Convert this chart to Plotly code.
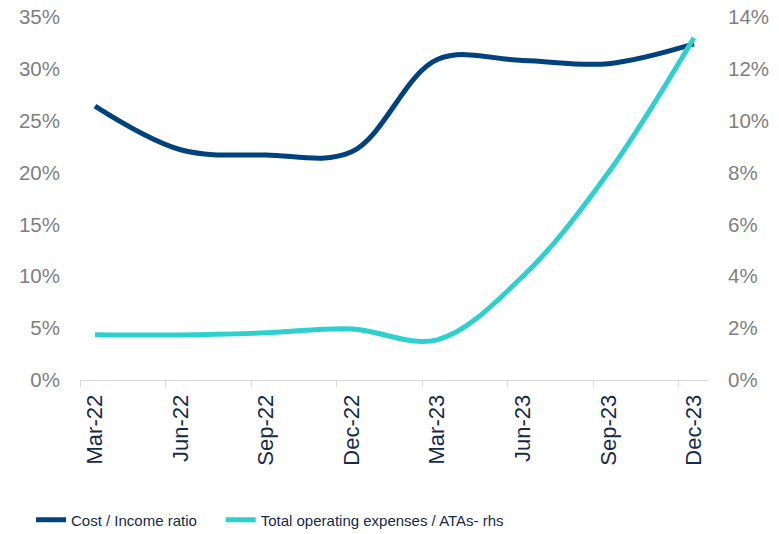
import plotly.graph_objects as go

# Quarter labels and the two ratio series (in %)
quarters = ["Mar-22", "Jun-22", "Sep-22", "Dec-22", "Mar-23", "Jun-23", "Sep-23", "Dec-23"]
cost_income = [26.4, 22.2, 21.7, 22.0, 30.9, 30.8, 30.5, 32.4]
opex_atas = [1.75, 1.74, 1.82, 1.97, 1.55, 4.0, 8.0, 13.2]

left_ticks = [0, 5, 10, 15, 20, 25, 30, 35]
right_ticks = [0, 2, 4, 6, 8, 10, 12, 14]

NAVY = "#00427c"
TEAL = "#2ecfcf"
GREY = "#808080"
LABEL_DARK = "#162a4a"
FONT = "Arial, Liberation Sans, sans-serif"

x = list(range(len(quarters)))

fig = go.Figure()
fig.add_trace(go.Scatter(
    x=x, y=cost_income, name="Cost / Income ratio", mode="lines",
    line=dict(color=NAVY, width=5, shape="spline", smoothing=1.0),
    yaxis="y", legend="legend",
))
fig.add_trace(go.Scatter(
    x=x, y=opex_atas, name="Total operating expenses / ATAs- rhs", mode="lines",
    line=dict(color=TEAL, width=5, shape="spline", smoothing=1.0),
    yaxis="y2", legend="legend2",
))

legend_style = dict(
    orientation="h", xanchor="left", y=-0.386, yanchor="middle",
    font=dict(family=FONT, size=15, color=LABEL_DARK),
    bgcolor="rgba(0,0,0,0)",
)

# tick marks sit slightly left of each category position
tick_offset = -0.175
fig.update_layout(
    width=779, height=534,
    margin=dict(l=80, r=71, t=17, b=154, autoexpand=False),
    paper_bgcolor="white", plot_bgcolor="white",
    showlegend=True,
    legend=dict(x=-0.078, **legend_style),
    legend2=dict(x=0.224, **legend_style),
    xaxis=dict(
        range=[-0.175, 7.164],
        tickmode="array", tickvals=x, ticktext=quarters,
        tickangle=-90, ticks="", showgrid=False, zeroline=False,
        showline=True, linecolor="#d9d9d9", linewidth=1,
        tickfont=dict(family=FONT, size=22, color=LABEL_DARK),
        ticklabelstandoff=5,
        minor=dict(tickmode="array", tickvals=[tick_offset + i for i in x],
                   ticks="outside", ticklen=6, tickcolor="#d9d9d9", tickwidth=1,
                   showgrid=False),
    ),
    yaxis=dict(
        range=[0, 35], tickmode="array", tickvals=left_ticks,
        ticktext=[f"{v}%" for v in left_ticks],
        showgrid=False, zeroline=False, showline=False,
        tickfont=dict(family=FONT, size=20.5, color=GREY),
        ticklabelstandoff=19,
    ),
    yaxis2=dict(
        range=[0, 14], tickmode="array", tickvals=right_ticks,
        ticktext=[f"{v}%" for v in right_ticks],
        overlaying="y", side="right",
        showgrid=False, zeroline=False, showline=False,
        tickfont=dict(family=FONT, size=20.5, color=GREY),
        ticklabelstandoff=19,
    ),
)

fig.write_html("out.html")
